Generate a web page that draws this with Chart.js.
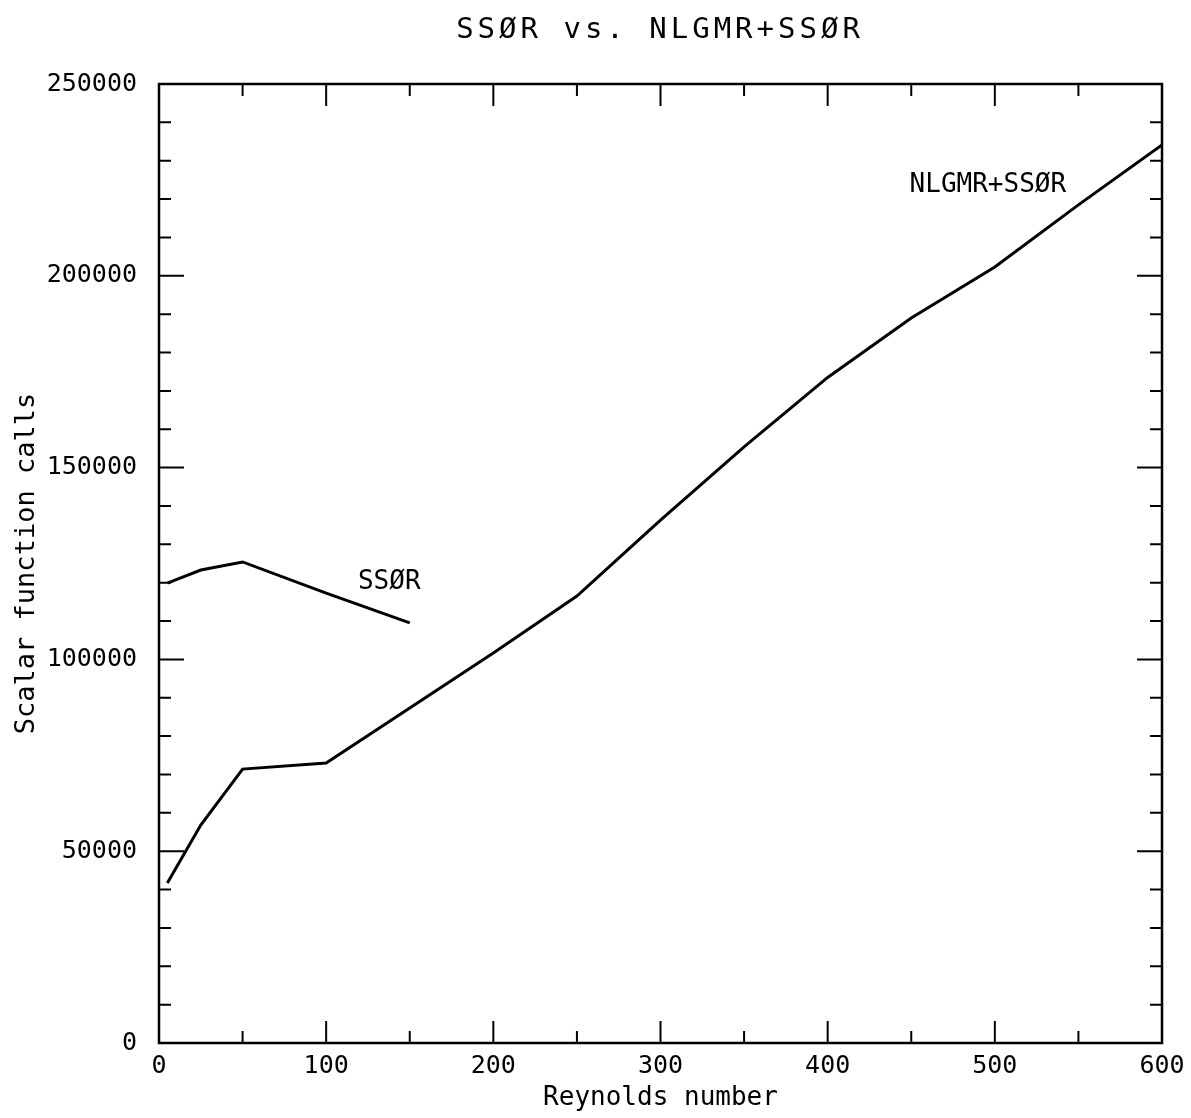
<!DOCTYPE html>
<html>
<head>
    <title>SSOR vs. NLGMR+SSOR</title>
    <script src="https://cdn.jsdelivr.net/npm/chart.js"></script>
    <style>
      body { margin:0; background:#fff; }
      #wrap { width:1191px; height:1118px; }
    </style>
</head>
<body>
  <div id="wrap"><canvas id="lineChart"></canvas></div>
  <script>
    // values
    const ssorRe    = [5, 25, 50, 100, 150];
    const ssorCalls = [119900, 123300, 125400, 117300, 109500];

    const nlgmrRe    = [5, 25, 50, 100, 150, 200, 250, 300, 350, 400, 450, 500, 550, 600];
    const nlgmrCalls = [41700, 56800, 71400, 73000, 87300, 101700, 116500, 136300, 155400, 173500, 189000, 202300, 218500, 234100];

    const xTicks = [0, 100, 200, 300, 400, 500, 600];
    const yTicks = [0, 50000, 100000, 150000, 200000, 250000];

    const titleText = 'SSØR vs. NLGMR+SSØR';
    const curveLabels = [
      { text: 'SSØR', x: 119, y: 120000 },
      { text: 'NLGMR+SSØR', x: 449, y: 223700 }
    ];

    const FONT = '"DejaVu Sans Mono", monospace';

    // frame, inward ticks on all sides, title and curve labels
    const plotterBits = {
      id: 'plotterBits',
      afterDraw(chart) {
        const { ctx, chartArea: a, scales: { x, y } } = chart;
        ctx.save();
        ctx.strokeStyle = '#000';
        ctx.lineWidth = 2.5;
        ctx.strokeRect(a.left, a.top, a.right - a.left, a.bottom - a.top);

        ctx.lineWidth = 2;
        ctx.beginPath();
        for (let v = 0; v <= 600; v += 50) {
          const px = x.getPixelForValue(v);
          const len = v % 100 === 0 ? 22 : 12;
          ctx.moveTo(px, a.bottom); ctx.lineTo(px, a.bottom - len);
          ctx.moveTo(px, a.top); ctx.lineTo(px, a.top + len);
        }
        for (let v = 0; v <= 250000; v += 10000) {
          const py = y.getPixelForValue(v);
          const len = v % 50000 === 0 ? 25 : 12;
          ctx.moveTo(a.left, py); ctx.lineTo(a.left + len, py);
          ctx.moveTo(a.right, py); ctx.lineTo(a.right - len, py);
        }
        ctx.stroke();

        ctx.fillStyle = '#000';
        ctx.textBaseline = 'middle';
        ctx.font = '26px ' + FONT;
        ctx.textAlign = 'left';
        curveLabels.forEach(l => {
          ctx.fillText(l.text, x.getPixelForValue(l.x), y.getPixelForValue(l.y));
        });

        if ('letterSpacing' in ctx) ctx.letterSpacing = '4px';
        ctx.font = '29px ' + FONT;
        ctx.textAlign = 'center';
        ctx.fillText(titleText, 660, 30);
        ctx.restore();
      }
    };

    const lineStyle = { borderColor: '#000', borderWidth: 3, pointRadius: 0, fill: false, tension: 0 };

    new Chart(document.getElementById('lineChart'), {
      type: 'line',
      data: {
        datasets: [
          { label: 'SSØR', data: ssorRe.map((r, i) => ({ x: r, y: ssorCalls[i] })), ...lineStyle },
          { label: 'NLGMR+SSØR', data: nlgmrRe.map((r, i) => ({ x: r, y: nlgmrCalls[i] })), ...lineStyle }
        ]
      },
      options: {
        responsive: true,
        maintainAspectRatio: false,
        animation: false,
        layout: { padding: { top: 84, right: 29, left: 0, bottom: 0 } },
        plugins: {
          legend: { display: false },
          title: { display: false },
          tooltip: { enabled: false }
        },
        scales: {
          x: {
            type: 'linear',
            min: 0,
            max: 600,
            afterBuildTicks: s => { s.ticks = xTicks.map(v => ({ value: v })); },
            afterFit: s => { s.height = 75; },
            grid: { display: false },
            border: { display: false },
            ticks: { color: '#000', padding: 0, callback: v => String(v), font: { family: FONT, size: 25 } },
            title: {
              display: true,
              text: 'Reynolds number',
              color: '#000',
              padding: { top: 0, bottom: 4 },
              font: { family: FONT, size: 26 }
            }
          },
          y: {
            type: 'linear',
            min: 0,
            max: 250000,
            afterBuildTicks: s => { s.ticks = yTicks.map(v => ({ value: v })); },
            afterFit: s => { s.width = 159; },
            grid: { display: false },
            border: { display: false },
            ticks: { color: '#000', padding: 14, callback: v => String(v), font: { family: FONT, size: 25 } },
            title: {
              display: true,
              text: 'Scalar function calls',
              color: '#000',
              padding: { top: 11, bottom: 0 },
              font: { family: FONT, size: 27 }
            }
          }
        }
      },
      plugins: [plotterBits]
    });
  </script>
</body>
</html>
